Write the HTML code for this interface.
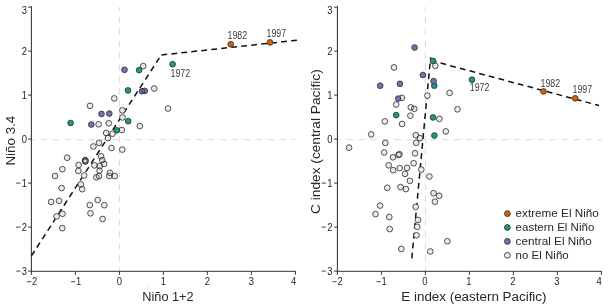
<!DOCTYPE html><html><head><meta charset="utf-8"><style>html,body{margin:0;padding:0;background:#fff;overflow:hidden}svg{display:block;will-change:transform}</style></head><body><svg width="610" height="305" viewBox="0 0 610 305">
<style>.tk{font-family:"Liberation Sans",sans-serif;font-size:10.3px;fill:#262626}.lb{font-family:"Liberation Sans",sans-serif;font-size:12px;fill:#262626}.yr{font-family:"Liberation Sans",sans-serif;font-size:10.5px;fill:#3a3a3a}</style>
<rect width="610" height="305" fill="#fff"/>
<line x1="31.90" y1="139.65" x2="295.40" y2="139.65" stroke="#d9d9d9" stroke-width="1" stroke-dasharray="6.3 5.65" stroke-dashoffset="3.2" />
<line x1="119.40" y1="7.10" x2="119.40" y2="271.10" stroke="#d9d9d9" stroke-width="1" stroke-dasharray="6.3 5.62" stroke-dashoffset="2.3" />
<line x1="31.40" y1="6.30" x2="31.40" y2="271.60" stroke="#333333" stroke-width="1.05" />
<line x1="30.90" y1="271.30" x2="295.90" y2="271.30" stroke="#333333" stroke-width="1.0" />
<line x1="28.10" y1="7.10" x2="31.40" y2="7.10" stroke="#333333" stroke-width="1" />
<text x="27.10" y="13.50" text-anchor="end" class="tk" textLength="5.25" lengthAdjust="spacingAndGlyphs">3</text>
<line x1="28.10" y1="51.10" x2="31.40" y2="51.10" stroke="#333333" stroke-width="1" />
<text x="27.10" y="54.70" text-anchor="end" class="tk" textLength="5.25" lengthAdjust="spacingAndGlyphs">2</text>
<line x1="28.10" y1="95.10" x2="31.40" y2="95.10" stroke="#333333" stroke-width="1" />
<text x="27.10" y="98.70" text-anchor="end" class="tk" textLength="5.25" lengthAdjust="spacingAndGlyphs">1</text>
<line x1="28.10" y1="139.10" x2="31.40" y2="139.10" stroke="#333333" stroke-width="1" />
<text x="27.10" y="142.70" text-anchor="end" class="tk" textLength="5.25" lengthAdjust="spacingAndGlyphs">0</text>
<line x1="28.10" y1="183.10" x2="31.40" y2="183.10" stroke="#333333" stroke-width="1" />
<text x="27.10" y="186.70" text-anchor="end" class="tk" textLength="5.25" lengthAdjust="spacingAndGlyphs">1</text>
<line x1="16.20" y1="183.10" x2="20.50" y2="183.10" stroke="#333" stroke-width="0.9" />
<line x1="28.10" y1="227.10" x2="31.40" y2="227.10" stroke="#333333" stroke-width="1" />
<text x="27.10" y="230.70" text-anchor="end" class="tk" textLength="5.25" lengthAdjust="spacingAndGlyphs">2</text>
<line x1="16.20" y1="227.10" x2="20.50" y2="227.10" stroke="#333" stroke-width="0.9" />
<line x1="28.10" y1="271.10" x2="31.40" y2="271.10" stroke="#333333" stroke-width="1" />
<text x="27.10" y="274.70" text-anchor="end" class="tk" textLength="5.25" lengthAdjust="spacingAndGlyphs">3</text>
<line x1="16.20" y1="271.10" x2="20.50" y2="271.10" stroke="#333" stroke-width="0.9" />
<line x1="31.40" y1="271.10" x2="31.40" y2="274.80" stroke="#333333" stroke-width="1" />
<text x="34.70" y="285.00" text-anchor="middle" class="tk" textLength="5.25" lengthAdjust="spacingAndGlyphs">2</text>
<line x1="27.10" y1="281.70" x2="31.30" y2="281.70" stroke="#333" stroke-width="0.9" />
<line x1="75.40" y1="271.10" x2="75.40" y2="274.80" stroke="#333333" stroke-width="1" />
<text x="78.70" y="285.00" text-anchor="middle" class="tk" textLength="5.25" lengthAdjust="spacingAndGlyphs">1</text>
<line x1="71.10" y1="281.70" x2="75.30" y2="281.70" stroke="#333" stroke-width="0.9" />
<line x1="119.40" y1="271.10" x2="119.40" y2="274.80" stroke="#333333" stroke-width="1" />
<text x="119.40" y="285.00" text-anchor="middle" class="tk" textLength="5.25" lengthAdjust="spacingAndGlyphs">0</text>
<line x1="163.40" y1="271.10" x2="163.40" y2="274.80" stroke="#333333" stroke-width="1" />
<text x="163.40" y="285.00" text-anchor="middle" class="tk" textLength="5.25" lengthAdjust="spacingAndGlyphs">1</text>
<line x1="207.40" y1="271.10" x2="207.40" y2="274.80" stroke="#333333" stroke-width="1" />
<text x="207.40" y="285.00" text-anchor="middle" class="tk" textLength="5.25" lengthAdjust="spacingAndGlyphs">2</text>
<line x1="251.40" y1="271.10" x2="251.40" y2="274.80" stroke="#333333" stroke-width="1" />
<text x="251.40" y="285.00" text-anchor="middle" class="tk" textLength="5.25" lengthAdjust="spacingAndGlyphs">3</text>
<line x1="295.40" y1="271.10" x2="295.40" y2="274.80" stroke="#333333" stroke-width="1" />
<text x="293.60" y="285.00" text-anchor="middle" class="tk" textLength="5.25" lengthAdjust="spacingAndGlyphs">4</text>
<text x="142.30" y="300.7" class="lb" textLength="51.30" lengthAdjust="spacingAndGlyphs">Niño 1+2</text>
<line x1="337.90" y1="139.65" x2="601.40" y2="139.65" stroke="#d9d9d9" stroke-width="1" stroke-dasharray="6.3 5.65" stroke-dashoffset="3.2" />
<line x1="425.40" y1="7.10" x2="425.40" y2="271.10" stroke="#d9d9d9" stroke-width="1" stroke-dasharray="6.3 5.62" stroke-dashoffset="2.3" />
<line x1="337.40" y1="6.30" x2="337.40" y2="271.60" stroke="#333333" stroke-width="1.05" />
<line x1="336.90" y1="271.30" x2="601.90" y2="271.30" stroke="#333333" stroke-width="1.0" />
<line x1="334.10" y1="7.10" x2="337.40" y2="7.10" stroke="#333333" stroke-width="1" />
<text x="332.50" y="13.50" text-anchor="end" class="tk" textLength="5.25" lengthAdjust="spacingAndGlyphs">3</text>
<line x1="334.10" y1="51.10" x2="337.40" y2="51.10" stroke="#333333" stroke-width="1" />
<text x="332.50" y="54.70" text-anchor="end" class="tk" textLength="5.25" lengthAdjust="spacingAndGlyphs">2</text>
<line x1="334.10" y1="95.10" x2="337.40" y2="95.10" stroke="#333333" stroke-width="1" />
<text x="332.50" y="98.70" text-anchor="end" class="tk" textLength="5.25" lengthAdjust="spacingAndGlyphs">1</text>
<line x1="334.10" y1="139.10" x2="337.40" y2="139.10" stroke="#333333" stroke-width="1" />
<text x="332.50" y="142.70" text-anchor="end" class="tk" textLength="5.25" lengthAdjust="spacingAndGlyphs">0</text>
<line x1="334.10" y1="183.10" x2="337.40" y2="183.10" stroke="#333333" stroke-width="1" />
<text x="332.50" y="186.70" text-anchor="end" class="tk" textLength="5.25" lengthAdjust="spacingAndGlyphs">1</text>
<line x1="321.60" y1="183.10" x2="325.90" y2="183.10" stroke="#333" stroke-width="0.9" />
<line x1="334.10" y1="227.10" x2="337.40" y2="227.10" stroke="#333333" stroke-width="1" />
<text x="332.50" y="230.70" text-anchor="end" class="tk" textLength="5.25" lengthAdjust="spacingAndGlyphs">2</text>
<line x1="321.60" y1="227.10" x2="325.90" y2="227.10" stroke="#333" stroke-width="0.9" />
<line x1="334.10" y1="271.10" x2="337.40" y2="271.10" stroke="#333333" stroke-width="1" />
<text x="332.50" y="274.70" text-anchor="end" class="tk" textLength="5.25" lengthAdjust="spacingAndGlyphs">3</text>
<line x1="321.60" y1="271.10" x2="325.90" y2="271.10" stroke="#333" stroke-width="0.9" />
<line x1="337.40" y1="271.10" x2="337.40" y2="274.80" stroke="#333333" stroke-width="1" />
<text x="340.10" y="285.00" text-anchor="middle" class="tk" textLength="5.25" lengthAdjust="spacingAndGlyphs">2</text>
<line x1="332.50" y1="281.70" x2="336.70" y2="281.70" stroke="#333" stroke-width="0.9" />
<line x1="381.40" y1="271.10" x2="381.40" y2="274.80" stroke="#333333" stroke-width="1" />
<text x="384.10" y="285.00" text-anchor="middle" class="tk" textLength="5.25" lengthAdjust="spacingAndGlyphs">1</text>
<line x1="376.50" y1="281.70" x2="380.70" y2="281.70" stroke="#333" stroke-width="0.9" />
<line x1="425.40" y1="271.10" x2="425.40" y2="274.80" stroke="#333333" stroke-width="1" />
<text x="424.80" y="285.00" text-anchor="middle" class="tk" textLength="5.25" lengthAdjust="spacingAndGlyphs">0</text>
<line x1="469.40" y1="271.10" x2="469.40" y2="274.80" stroke="#333333" stroke-width="1" />
<text x="468.80" y="285.00" text-anchor="middle" class="tk" textLength="5.25" lengthAdjust="spacingAndGlyphs">1</text>
<line x1="513.40" y1="271.10" x2="513.40" y2="274.80" stroke="#333333" stroke-width="1" />
<text x="512.80" y="285.00" text-anchor="middle" class="tk" textLength="5.25" lengthAdjust="spacingAndGlyphs">2</text>
<line x1="557.40" y1="271.10" x2="557.40" y2="274.80" stroke="#333333" stroke-width="1" />
<text x="556.80" y="285.00" text-anchor="middle" class="tk" textLength="5.25" lengthAdjust="spacingAndGlyphs">3</text>
<line x1="601.40" y1="271.10" x2="601.40" y2="274.80" stroke="#333333" stroke-width="1" />
<text x="599.00" y="285.00" text-anchor="middle" class="tk" textLength="5.25" lengthAdjust="spacingAndGlyphs">4</text>
<text x="401.30" y="300.7" class="lb" textLength="145.20" lengthAdjust="spacingAndGlyphs">E index (eastern Pacific)</text>
<text transform="translate(15.0,165.6) rotate(-90)" class="lb" textLength="49.9" lengthAdjust="spacingAndGlyphs">Niño 3.4</text>
<text transform="translate(320.3,213.9) rotate(-90)" class="lb" textLength="144.6" lengthAdjust="spacingAndGlyphs">C index (central Pacific)</text>
<line x1="31.4" y1="255.9" x2="161.2" y2="55.0" stroke="#111" stroke-width="1.5" stroke-dasharray="5.8 4.2" stroke-dashoffset="0.0" />
<line x1="161.2" y1="55.0" x2="298.0" y2="40.1" stroke="#111" stroke-width="1.5" stroke-dasharray="5.8 4.24" stroke-dashoffset="-0.2" />
<line x1="411.8" y1="258.4" x2="430.6" y2="57.4" stroke="#111" stroke-width="1.5" stroke-dasharray="5.8 4.2" stroke-dashoffset="0.0" />
<line x1="430.6" y1="60.4" x2="599.0" y2="105.5" stroke="#111" stroke-width="1.5" stroke-dasharray="5.8 4.2" stroke-dashoffset="-0.3" />
<circle cx="143.20" cy="66.10" r="2.85" fill="#ebebeb" />
<circle cx="154.20" cy="88.50" r="2.85" fill="#ebebeb" />
<circle cx="114.30" cy="98.40" r="2.85" fill="#ebebeb" />
<circle cx="90.00" cy="105.80" r="2.85" fill="#ebebeb" />
<circle cx="168.00" cy="108.50" r="2.85" fill="#ebebeb" />
<circle cx="122.40" cy="110.30" r="2.85" fill="#ebebeb" />
<circle cx="122.50" cy="117.40" r="2.85" fill="#ebebeb" />
<circle cx="98.60" cy="124.30" r="2.85" fill="#ebebeb" />
<circle cx="108.80" cy="123.30" r="2.85" fill="#ebebeb" />
<circle cx="139.80" cy="126.10" r="2.85" fill="#ebebeb" />
<circle cx="121.90" cy="130.00" r="2.85" fill="#ebebeb" />
<circle cx="106.20" cy="133.00" r="2.85" fill="#ebebeb" />
<circle cx="112.50" cy="133.80" r="2.85" fill="#ebebeb" />
<circle cx="107.90" cy="138.10" r="2.85" fill="#ebebeb" />
<circle cx="99.00" cy="142.90" r="2.85" fill="#ebebeb" />
<circle cx="93.40" cy="146.50" r="2.85" fill="#ebebeb" />
<circle cx="111.50" cy="148.00" r="2.85" fill="#ebebeb" />
<circle cx="122.30" cy="149.60" r="2.85" fill="#ebebeb" />
<circle cx="67.10" cy="157.70" r="2.85" fill="#ebebeb" />
<circle cx="101.10" cy="156.30" r="2.85" fill="#ebebeb" />
<circle cx="102.20" cy="160.10" r="2.85" fill="#ebebeb" />
<circle cx="104.10" cy="163.90" r="2.85" fill="#ebebeb" />
<circle cx="94.40" cy="165.40" r="2.85" fill="#ebebeb" />
<circle cx="99.70" cy="166.10" r="2.85" fill="#ebebeb" />
<circle cx="78.60" cy="165.00" r="2.85" fill="#ebebeb" />
<circle cx="78.30" cy="170.90" r="2.85" fill="#ebebeb" />
<circle cx="62.40" cy="169.20" r="2.85" fill="#ebebeb" />
<circle cx="99.50" cy="170.60" r="2.85" fill="#ebebeb" />
<circle cx="96.40" cy="177.30" r="2.85" fill="#ebebeb" />
<circle cx="99.00" cy="176.00" r="2.85" fill="#ebebeb" />
<circle cx="109.30" cy="176.00" r="2.85" fill="#ebebeb" />
<circle cx="109.90" cy="172.80" r="2.85" fill="#ebebeb" />
<circle cx="114.80" cy="176.10" r="2.85" fill="#ebebeb" />
<circle cx="84.10" cy="175.50" r="2.85" fill="#ebebeb" />
<circle cx="55.00" cy="176.00" r="2.85" fill="#ebebeb" />
<circle cx="80.90" cy="184.40" r="2.85" fill="#ebebeb" />
<circle cx="82.20" cy="189.20" r="2.85" fill="#ebebeb" />
<circle cx="61.60" cy="188.10" r="2.85" fill="#ebebeb" />
<circle cx="59.00" cy="200.80" r="2.85" fill="#ebebeb" />
<circle cx="51.10" cy="201.90" r="2.85" fill="#ebebeb" />
<circle cx="97.70" cy="200.00" r="2.85" fill="#ebebeb" />
<circle cx="89.80" cy="205.10" r="2.85" fill="#ebebeb" />
<circle cx="104.30" cy="205.20" r="2.85" fill="#ebebeb" />
<circle cx="90.50" cy="213.30" r="2.85" fill="#ebebeb" />
<circle cx="62.50" cy="213.80" r="2.85" fill="#ebebeb" />
<circle cx="56.60" cy="216.40" r="2.85" fill="#ebebeb" />
<circle cx="102.60" cy="219.00" r="2.85" fill="#ebebeb" />
<circle cx="62.30" cy="228.20" r="2.85" fill="#ebebeb" />
<circle cx="143.20" cy="66.10" r="2.85" fill="none" stroke="#333333" stroke-width="0.85" />
<circle cx="154.20" cy="88.50" r="2.85" fill="none" stroke="#333333" stroke-width="0.85" />
<circle cx="114.30" cy="98.40" r="2.85" fill="none" stroke="#333333" stroke-width="0.85" />
<circle cx="90.00" cy="105.80" r="2.85" fill="none" stroke="#333333" stroke-width="0.85" />
<circle cx="168.00" cy="108.50" r="2.85" fill="none" stroke="#333333" stroke-width="0.85" />
<circle cx="122.40" cy="110.30" r="2.85" fill="none" stroke="#333333" stroke-width="0.85" />
<circle cx="122.50" cy="117.40" r="2.85" fill="none" stroke="#333333" stroke-width="0.85" />
<circle cx="98.60" cy="124.30" r="2.85" fill="none" stroke="#333333" stroke-width="0.85" />
<circle cx="108.80" cy="123.30" r="2.85" fill="none" stroke="#333333" stroke-width="0.85" />
<circle cx="139.80" cy="126.10" r="2.85" fill="none" stroke="#333333" stroke-width="0.85" />
<circle cx="121.90" cy="130.00" r="2.85" fill="none" stroke="#333333" stroke-width="0.85" />
<circle cx="106.20" cy="133.00" r="2.85" fill="none" stroke="#333333" stroke-width="0.85" />
<circle cx="112.50" cy="133.80" r="2.85" fill="none" stroke="#333333" stroke-width="0.85" />
<circle cx="107.90" cy="138.10" r="2.85" fill="none" stroke="#333333" stroke-width="0.85" />
<circle cx="99.00" cy="142.90" r="2.85" fill="none" stroke="#333333" stroke-width="0.85" />
<circle cx="93.40" cy="146.50" r="2.85" fill="none" stroke="#333333" stroke-width="0.85" />
<circle cx="111.50" cy="148.00" r="2.85" fill="none" stroke="#333333" stroke-width="0.85" />
<circle cx="122.30" cy="149.60" r="2.85" fill="none" stroke="#333333" stroke-width="0.85" />
<circle cx="67.10" cy="157.70" r="2.85" fill="none" stroke="#333333" stroke-width="0.85" />
<circle cx="101.10" cy="156.30" r="2.85" fill="none" stroke="#333333" stroke-width="0.85" />
<circle cx="102.20" cy="160.10" r="2.85" fill="none" stroke="#333333" stroke-width="0.85" />
<circle cx="104.10" cy="163.90" r="2.85" fill="none" stroke="#333333" stroke-width="0.85" />
<circle cx="94.40" cy="165.40" r="2.85" fill="none" stroke="#333333" stroke-width="0.85" />
<circle cx="99.70" cy="166.10" r="2.85" fill="none" stroke="#333333" stroke-width="0.85" />
<circle cx="78.60" cy="165.00" r="2.85" fill="none" stroke="#333333" stroke-width="0.85" />
<circle cx="78.30" cy="170.90" r="2.85" fill="none" stroke="#333333" stroke-width="0.85" />
<circle cx="62.40" cy="169.20" r="2.85" fill="none" stroke="#333333" stroke-width="0.85" />
<circle cx="99.50" cy="170.60" r="2.85" fill="none" stroke="#333333" stroke-width="0.85" />
<circle cx="96.40" cy="177.30" r="2.85" fill="none" stroke="#333333" stroke-width="0.85" />
<circle cx="99.00" cy="176.00" r="2.85" fill="none" stroke="#333333" stroke-width="0.85" />
<circle cx="109.30" cy="176.00" r="2.85" fill="none" stroke="#333333" stroke-width="0.85" />
<circle cx="109.90" cy="172.80" r="2.85" fill="none" stroke="#333333" stroke-width="0.85" />
<circle cx="114.80" cy="176.10" r="2.85" fill="none" stroke="#333333" stroke-width="0.85" />
<circle cx="84.10" cy="175.50" r="2.85" fill="none" stroke="#333333" stroke-width="0.85" />
<circle cx="55.00" cy="176.00" r="2.85" fill="none" stroke="#333333" stroke-width="0.85" />
<circle cx="80.90" cy="184.40" r="2.85" fill="none" stroke="#333333" stroke-width="0.85" />
<circle cx="82.20" cy="189.20" r="2.85" fill="none" stroke="#333333" stroke-width="0.85" />
<circle cx="61.60" cy="188.10" r="2.85" fill="none" stroke="#333333" stroke-width="0.85" />
<circle cx="59.00" cy="200.80" r="2.85" fill="none" stroke="#333333" stroke-width="0.85" />
<circle cx="51.10" cy="201.90" r="2.85" fill="none" stroke="#333333" stroke-width="0.85" />
<circle cx="97.70" cy="200.00" r="2.85" fill="none" stroke="#333333" stroke-width="0.85" />
<circle cx="89.80" cy="205.10" r="2.85" fill="none" stroke="#333333" stroke-width="0.85" />
<circle cx="104.30" cy="205.20" r="2.85" fill="none" stroke="#333333" stroke-width="0.85" />
<circle cx="90.50" cy="213.30" r="2.85" fill="none" stroke="#333333" stroke-width="0.85" />
<circle cx="62.50" cy="213.80" r="2.85" fill="none" stroke="#333333" stroke-width="0.85" />
<circle cx="56.60" cy="216.40" r="2.85" fill="none" stroke="#333333" stroke-width="0.85" />
<circle cx="102.60" cy="219.00" r="2.85" fill="none" stroke="#333333" stroke-width="0.85" />
<circle cx="62.30" cy="228.20" r="2.85" fill="none" stroke="#333333" stroke-width="0.85" />
<ellipse cx="85.3" cy="160.8" rx="3.05" ry="3.55" fill="#6a6a6a" stroke="#2a2a2a" stroke-width="1.0" />
<ellipse cx="85.2" cy="160.9" rx="1.5" ry="1.0" fill="#eee" />
<circle cx="172.60" cy="64.20" r="2.85" fill="#1b9e77" />
<circle cx="139.10" cy="70.10" r="2.85" fill="#1b9e77" />
<circle cx="128.00" cy="90.40" r="2.85" fill="#1b9e77" />
<circle cx="128.20" cy="121.20" r="2.85" fill="#1b9e77" />
<circle cx="70.60" cy="123.00" r="2.85" fill="#1b9e77" />
<circle cx="116.80" cy="130.30" r="2.85" fill="#1b9e77" />
<circle cx="172.60" cy="64.20" r="2.85" fill="none" stroke="#333333" stroke-width="0.85" />
<circle cx="139.10" cy="70.10" r="2.85" fill="none" stroke="#333333" stroke-width="0.85" />
<circle cx="128.00" cy="90.40" r="2.85" fill="none" stroke="#333333" stroke-width="0.85" />
<circle cx="128.20" cy="121.20" r="2.85" fill="none" stroke="#333333" stroke-width="0.85" />
<circle cx="70.60" cy="123.00" r="2.85" fill="none" stroke="#333333" stroke-width="0.85" />
<circle cx="116.80" cy="130.30" r="2.85" fill="none" stroke="#333333" stroke-width="0.85" />
<circle cx="124.50" cy="69.80" r="2.85" fill="#7570b3" />
<circle cx="142.00" cy="91.20" r="2.85" fill="#7570b3" />
<circle cx="144.80" cy="90.90" r="2.85" fill="#7570b3" />
<circle cx="101.50" cy="113.90" r="2.85" fill="#7570b3" />
<circle cx="109.30" cy="113.60" r="2.85" fill="#7570b3" />
<circle cx="91.30" cy="124.50" r="2.85" fill="#7570b3" />
<circle cx="124.50" cy="69.80" r="2.85" fill="none" stroke="#333333" stroke-width="0.85" />
<circle cx="142.00" cy="91.20" r="2.85" fill="none" stroke="#333333" stroke-width="0.85" />
<circle cx="144.80" cy="90.90" r="2.85" fill="none" stroke="#333333" stroke-width="0.85" />
<circle cx="101.50" cy="113.90" r="2.85" fill="none" stroke="#333333" stroke-width="0.85" />
<circle cx="109.30" cy="113.60" r="2.85" fill="none" stroke="#333333" stroke-width="0.85" />
<circle cx="91.30" cy="124.50" r="2.85" fill="none" stroke="#333333" stroke-width="0.85" />
<circle cx="230.70" cy="44.20" r="2.85" fill="#d95f02" />
<circle cx="270.00" cy="42.40" r="2.85" fill="#d95f02" />
<circle cx="230.70" cy="44.20" r="2.85" fill="none" stroke="#333333" stroke-width="0.85" />
<circle cx="270.00" cy="42.40" r="2.85" fill="none" stroke="#333333" stroke-width="0.85" />
<circle cx="435.30" cy="65.80" r="2.85" fill="#ebebeb" />
<circle cx="394.00" cy="67.40" r="2.85" fill="#ebebeb" />
<circle cx="401.90" cy="97.90" r="2.85" fill="#ebebeb" />
<circle cx="427.40" cy="95.60" r="2.85" fill="#ebebeb" />
<circle cx="449.60" cy="92.90" r="2.85" fill="#ebebeb" />
<circle cx="396.20" cy="104.50" r="2.85" fill="#ebebeb" />
<circle cx="410.80" cy="107.40" r="2.85" fill="#ebebeb" />
<circle cx="414.30" cy="108.80" r="2.85" fill="#ebebeb" />
<circle cx="410.40" cy="115.70" r="2.85" fill="#ebebeb" />
<circle cx="384.80" cy="121.40" r="2.85" fill="#ebebeb" />
<circle cx="402.10" cy="123.90" r="2.85" fill="#ebebeb" />
<circle cx="439.40" cy="118.90" r="2.85" fill="#ebebeb" />
<circle cx="457.50" cy="109.30" r="2.85" fill="#ebebeb" />
<circle cx="445.80" cy="131.40" r="2.85" fill="#ebebeb" />
<circle cx="371.20" cy="134.40" r="2.85" fill="#ebebeb" />
<circle cx="415.80" cy="135.20" r="2.85" fill="#ebebeb" />
<circle cx="419.80" cy="138.10" r="2.85" fill="#ebebeb" />
<circle cx="349.10" cy="147.60" r="2.85" fill="#ebebeb" />
<circle cx="385.30" cy="142.90" r="2.85" fill="#ebebeb" />
<circle cx="416.20" cy="142.80" r="2.85" fill="#ebebeb" />
<circle cx="384.20" cy="152.50" r="2.85" fill="#ebebeb" />
<circle cx="399.40" cy="154.20" r="2.85" fill="#ebebeb" />
<circle cx="398.50" cy="155.00" r="2.85" fill="#ebebeb" />
<circle cx="392.90" cy="157.30" r="2.85" fill="#ebebeb" />
<circle cx="415.00" cy="153.30" r="2.85" fill="#ebebeb" />
<circle cx="413.60" cy="163.20" r="2.85" fill="#ebebeb" />
<circle cx="388.70" cy="165.30" r="2.85" fill="#ebebeb" />
<circle cx="393.20" cy="170.20" r="2.85" fill="#ebebeb" />
<circle cx="399.70" cy="168.10" r="2.85" fill="#ebebeb" />
<circle cx="407.00" cy="167.90" r="2.85" fill="#ebebeb" />
<circle cx="405.00" cy="173.90" r="2.85" fill="#ebebeb" />
<circle cx="421.30" cy="169.60" r="2.85" fill="#ebebeb" />
<circle cx="429.40" cy="176.50" r="2.85" fill="#ebebeb" />
<circle cx="409.90" cy="180.80" r="2.85" fill="#ebebeb" />
<circle cx="387.30" cy="187.80" r="2.85" fill="#ebebeb" />
<circle cx="400.50" cy="187.10" r="2.85" fill="#ebebeb" />
<circle cx="405.90" cy="189.10" r="2.85" fill="#ebebeb" />
<circle cx="433.60" cy="193.20" r="2.85" fill="#ebebeb" />
<circle cx="439.20" cy="195.80" r="2.85" fill="#ebebeb" />
<circle cx="434.90" cy="201.70" r="2.85" fill="#ebebeb" />
<circle cx="380.10" cy="205.60" r="2.85" fill="#ebebeb" />
<circle cx="415.70" cy="206.80" r="2.85" fill="#ebebeb" />
<circle cx="375.50" cy="214.10" r="2.85" fill="#ebebeb" />
<circle cx="389.30" cy="217.00" r="2.85" fill="#ebebeb" />
<circle cx="418.00" cy="219.90" r="2.85" fill="#ebebeb" />
<circle cx="417.20" cy="226.80" r="2.85" fill="#ebebeb" />
<circle cx="389.70" cy="229.10" r="2.85" fill="#ebebeb" />
<circle cx="416.50" cy="235.30" r="2.85" fill="#ebebeb" />
<circle cx="447.40" cy="241.20" r="2.85" fill="#ebebeb" />
<circle cx="401.30" cy="249.00" r="2.85" fill="#ebebeb" />
<circle cx="430.30" cy="251.50" r="2.85" fill="#ebebeb" />
<circle cx="435.30" cy="65.80" r="2.85" fill="none" stroke="#333333" stroke-width="0.85" />
<circle cx="394.00" cy="67.40" r="2.85" fill="none" stroke="#333333" stroke-width="0.85" />
<circle cx="401.90" cy="97.90" r="2.85" fill="none" stroke="#333333" stroke-width="0.85" />
<circle cx="427.40" cy="95.60" r="2.85" fill="none" stroke="#333333" stroke-width="0.85" />
<circle cx="449.60" cy="92.90" r="2.85" fill="none" stroke="#333333" stroke-width="0.85" />
<circle cx="396.20" cy="104.50" r="2.85" fill="none" stroke="#333333" stroke-width="0.85" />
<circle cx="410.80" cy="107.40" r="2.85" fill="none" stroke="#333333" stroke-width="0.85" />
<circle cx="414.30" cy="108.80" r="2.85" fill="none" stroke="#333333" stroke-width="0.85" />
<circle cx="410.40" cy="115.70" r="2.85" fill="none" stroke="#333333" stroke-width="0.85" />
<circle cx="384.80" cy="121.40" r="2.85" fill="none" stroke="#333333" stroke-width="0.85" />
<circle cx="402.10" cy="123.90" r="2.85" fill="none" stroke="#333333" stroke-width="0.85" />
<circle cx="439.40" cy="118.90" r="2.85" fill="none" stroke="#333333" stroke-width="0.85" />
<circle cx="457.50" cy="109.30" r="2.85" fill="none" stroke="#333333" stroke-width="0.85" />
<circle cx="445.80" cy="131.40" r="2.85" fill="none" stroke="#333333" stroke-width="0.85" />
<circle cx="371.20" cy="134.40" r="2.85" fill="none" stroke="#333333" stroke-width="0.85" />
<circle cx="415.80" cy="135.20" r="2.85" fill="none" stroke="#333333" stroke-width="0.85" />
<circle cx="419.80" cy="138.10" r="2.85" fill="none" stroke="#333333" stroke-width="0.85" />
<circle cx="349.10" cy="147.60" r="2.85" fill="none" stroke="#333333" stroke-width="0.85" />
<circle cx="385.30" cy="142.90" r="2.85" fill="none" stroke="#333333" stroke-width="0.85" />
<circle cx="416.20" cy="142.80" r="2.85" fill="none" stroke="#333333" stroke-width="0.85" />
<circle cx="384.20" cy="152.50" r="2.85" fill="none" stroke="#333333" stroke-width="0.85" />
<circle cx="399.40" cy="154.20" r="2.85" fill="none" stroke="#333333" stroke-width="0.85" />
<circle cx="398.50" cy="155.00" r="2.85" fill="none" stroke="#333333" stroke-width="0.85" />
<circle cx="392.90" cy="157.30" r="2.85" fill="none" stroke="#333333" stroke-width="0.85" />
<circle cx="415.00" cy="153.30" r="2.85" fill="none" stroke="#333333" stroke-width="0.85" />
<circle cx="413.60" cy="163.20" r="2.85" fill="none" stroke="#333333" stroke-width="0.85" />
<circle cx="388.70" cy="165.30" r="2.85" fill="none" stroke="#333333" stroke-width="0.85" />
<circle cx="393.20" cy="170.20" r="2.85" fill="none" stroke="#333333" stroke-width="0.85" />
<circle cx="399.70" cy="168.10" r="2.85" fill="none" stroke="#333333" stroke-width="0.85" />
<circle cx="407.00" cy="167.90" r="2.85" fill="none" stroke="#333333" stroke-width="0.85" />
<circle cx="405.00" cy="173.90" r="2.85" fill="none" stroke="#333333" stroke-width="0.85" />
<circle cx="421.30" cy="169.60" r="2.85" fill="none" stroke="#333333" stroke-width="0.85" />
<circle cx="429.40" cy="176.50" r="2.85" fill="none" stroke="#333333" stroke-width="0.85" />
<circle cx="409.90" cy="180.80" r="2.85" fill="none" stroke="#333333" stroke-width="0.85" />
<circle cx="387.30" cy="187.80" r="2.85" fill="none" stroke="#333333" stroke-width="0.85" />
<circle cx="400.50" cy="187.10" r="2.85" fill="none" stroke="#333333" stroke-width="0.85" />
<circle cx="405.90" cy="189.10" r="2.85" fill="none" stroke="#333333" stroke-width="0.85" />
<circle cx="433.60" cy="193.20" r="2.85" fill="none" stroke="#333333" stroke-width="0.85" />
<circle cx="439.20" cy="195.80" r="2.85" fill="none" stroke="#333333" stroke-width="0.85" />
<circle cx="434.90" cy="201.70" r="2.85" fill="none" stroke="#333333" stroke-width="0.85" />
<circle cx="380.10" cy="205.60" r="2.85" fill="none" stroke="#333333" stroke-width="0.85" />
<circle cx="415.70" cy="206.80" r="2.85" fill="none" stroke="#333333" stroke-width="0.85" />
<circle cx="375.50" cy="214.10" r="2.85" fill="none" stroke="#333333" stroke-width="0.85" />
<circle cx="389.30" cy="217.00" r="2.85" fill="none" stroke="#333333" stroke-width="0.85" />
<circle cx="418.00" cy="219.90" r="2.85" fill="none" stroke="#333333" stroke-width="0.85" />
<circle cx="417.20" cy="226.80" r="2.85" fill="none" stroke="#333333" stroke-width="0.85" />
<circle cx="389.70" cy="229.10" r="2.85" fill="none" stroke="#333333" stroke-width="0.85" />
<circle cx="416.50" cy="235.30" r="2.85" fill="none" stroke="#333333" stroke-width="0.85" />
<circle cx="447.40" cy="241.20" r="2.85" fill="none" stroke="#333333" stroke-width="0.85" />
<circle cx="401.30" cy="249.00" r="2.85" fill="none" stroke="#333333" stroke-width="0.85" />
<circle cx="430.30" cy="251.50" r="2.85" fill="none" stroke="#333333" stroke-width="0.85" />
<circle cx="433.00" cy="60.90" r="2.85" fill="#1b9e77" />
<circle cx="434.30" cy="85.70" r="2.85" fill="#1b9e77" />
<circle cx="396.20" cy="115.10" r="2.85" fill="#1b9e77" />
<circle cx="433.00" cy="117.40" r="2.85" fill="#1b9e77" />
<circle cx="434.40" cy="135.50" r="2.85" fill="#1b9e77" />
<circle cx="472.00" cy="79.70" r="2.85" fill="#1b9e77" />
<circle cx="433.00" cy="60.90" r="2.85" fill="none" stroke="#333333" stroke-width="0.85" />
<circle cx="434.30" cy="85.70" r="2.85" fill="none" stroke="#333333" stroke-width="0.85" />
<circle cx="396.20" cy="115.10" r="2.85" fill="none" stroke="#333333" stroke-width="0.85" />
<circle cx="433.00" cy="117.40" r="2.85" fill="none" stroke="#333333" stroke-width="0.85" />
<circle cx="434.40" cy="135.50" r="2.85" fill="none" stroke="#333333" stroke-width="0.85" />
<circle cx="472.00" cy="79.70" r="2.85" fill="none" stroke="#333333" stroke-width="0.85" />
<circle cx="414.60" cy="47.50" r="2.85" fill="#7570b3" />
<circle cx="422.90" cy="75.00" r="2.85" fill="#7570b3" />
<circle cx="433.60" cy="81.10" r="2.85" fill="#7570b3" />
<circle cx="380.20" cy="85.70" r="2.85" fill="#7570b3" />
<circle cx="399.90" cy="83.80" r="2.85" fill="#7570b3" />
<circle cx="398.20" cy="98.60" r="2.85" fill="#7570b3" />
<circle cx="414.60" cy="47.50" r="2.85" fill="none" stroke="#333333" stroke-width="0.85" />
<circle cx="422.90" cy="75.00" r="2.85" fill="none" stroke="#333333" stroke-width="0.85" />
<circle cx="433.60" cy="81.10" r="2.85" fill="none" stroke="#333333" stroke-width="0.85" />
<circle cx="380.20" cy="85.70" r="2.85" fill="none" stroke="#333333" stroke-width="0.85" />
<circle cx="399.90" cy="83.80" r="2.85" fill="none" stroke="#333333" stroke-width="0.85" />
<circle cx="398.20" cy="98.60" r="2.85" fill="none" stroke="#333333" stroke-width="0.85" />
<circle cx="543.50" cy="91.40" r="2.85" fill="#d95f02" />
<circle cx="575.20" cy="98.30" r="2.85" fill="#d95f02" />
<circle cx="543.50" cy="91.40" r="2.85" fill="none" stroke="#333333" stroke-width="0.85" />
<circle cx="575.20" cy="98.30" r="2.85" fill="none" stroke="#333333" stroke-width="0.85" />
<text x="170.50" y="77.40" class="yr" textLength="19.6" lengthAdjust="spacingAndGlyphs">1972</text>
<text x="227.50" y="38.60" class="yr" textLength="19.6" lengthAdjust="spacingAndGlyphs">1982</text>
<text x="266.50" y="36.60" class="yr" textLength="19.6" lengthAdjust="spacingAndGlyphs">1997</text>
<text x="469.80" y="91.40" class="yr" textLength="19.6" lengthAdjust="spacingAndGlyphs">1972</text>
<text x="540.50" y="86.60" class="yr" textLength="19.6" lengthAdjust="spacingAndGlyphs">1982</text>
<text x="572.50" y="93.40" class="yr" textLength="19.6" lengthAdjust="spacingAndGlyphs">1997</text>
<circle cx="507.4" cy="213.60" r="2.9" fill="#d95f02" stroke="#333333" stroke-width="0.9" />
<text x="515.6" y="217.20" class="lb" textLength="83.2" lengthAdjust="spacingAndGlyphs" style="font-size:11.6px">extreme El Niño</text>
<circle cx="507.4" cy="227.50" r="2.9" fill="#1b9e77" stroke="#333333" stroke-width="0.9" />
<text x="515.6" y="231.10" class="lb" textLength="78.7" lengthAdjust="spacingAndGlyphs" style="font-size:11.6px">eastern El Niño</text>
<circle cx="507.4" cy="241.40" r="2.9" fill="#7570b3" stroke="#333333" stroke-width="0.9" />
<text x="515.6" y="245.00" class="lb" textLength="76.3" lengthAdjust="spacingAndGlyphs" style="font-size:11.6px">central El Niño</text>
<circle cx="507.4" cy="255.30" r="2.9" fill="#ebebeb" stroke="#333333" stroke-width="0.9" />
<text x="515.6" y="258.90" class="lb" textLength="53.1" lengthAdjust="spacingAndGlyphs" style="font-size:11.6px">no El Niño</text>
<rect x="148" y="286" width="1" height="1" fill="#b4b4b4"/>
</svg></body></html>
